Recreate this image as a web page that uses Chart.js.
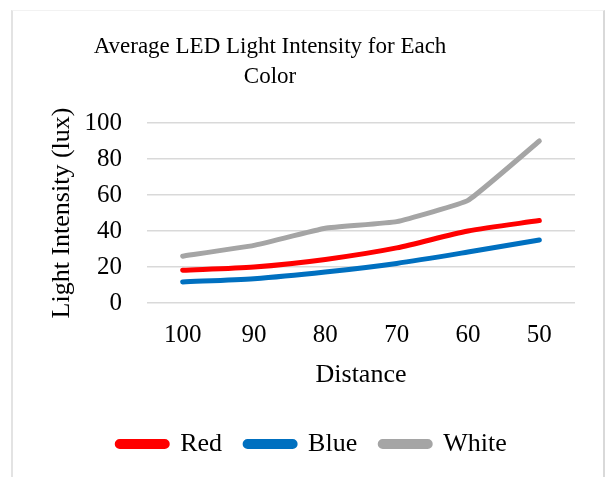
<!DOCTYPE html>
<html>
<head>
<meta charset="utf-8">
<script src="https://cdn.jsdelivr.net/npm/chart.js@4"></script>
<style>
  html, body { margin: 0; padding: 0; background: #fff; }
  #frame {
    position: absolute; left: 11px; top: 10px;
    width: 590px; height: 467px;
    border-left: 2px solid #e3e3e3;
    border-top: 1px solid #f2f2f2;
    border-right: 2px solid #d9d9d9;
  }
  #wrap { position: relative; width: 590px; height: 466px; }
</style>
</head>
<body>
<div id="frame"><div id="wrap"><canvas id="myChart"></canvas></div></div>
<script>
const distances = ["100", "90", "80", "70", "60", "50"];
const redValues = [18.2, 20.0, 24.2, 30.6, 40.0, 45.8];
const blueValues = [11.7, 13.5, 17.2, 22.0, 28.3, 35.0];
const whiteValues = [26.0, 32.0, 41.5, 45.2, 57.0, 90.0];
const yTicks = [0, 20, 40, 60, 80, 100];
const titleLines = ['Average LED Light Intensity for Each', 'Color'];

const FONT = "'Liberation Serif', 'Times New Roman', serif";
Chart.defaults.font.family = FONT;
Chart.defaults.color = '#000';

function series(label, data, color, tension) {
    return {
        label: label,
        data: data,
        borderColor: color,
        backgroundColor: color,
        borderWidth: 5,
        borderCapStyle: 'round',
        borderJoinStyle: 'round',
        pointRadius: 0,
        tension: tension
    };
}

// the title sits left of centre in the original, so draw it ourselves
const chartTitle = {
    id: 'chartTitle',
    afterDraw(chart) {
        const c = chart.ctx;
        c.save();
        c.font = '23px ' + FONT;
        c.fillStyle = '#000';
        c.textAlign = 'center';
        c.textBaseline = 'middle';
        titleLines.forEach((line, i) => c.fillText(line, 257, 36 + i * 30));
        c.restore();
    }
};

const ctx = document.querySelector('#myChart');

new Chart(ctx, {
    type: 'line',
    data: {
        labels: distances,
        datasets: [
            series('Red', redValues, '#FF0000', 0.25),
            series('Blue', blueValues, '#0070C0', 0.25),
            series('White', whiteValues, '#A5A5A5', 0.1)
        ]
    },
    plugins: [chartTitle],
    options: {
        responsive: true,
        maintainAspectRatio: false,
        animation: false,
        layout: { padding: { left: 36, right: 28, top: 112, bottom: 10 } },
        plugins: {
            title: { display: false },
            legend: {
                position: 'bottom',
                labels: {
                    boxWidth: 50,
                    boxHeight: 5,
                    useBorderRadius: true,
                    borderRadius: 2.5,
                    padding: 23,
                    font: { size: 26 },
                    color: '#000'
                }
            },
            tooltip: { enabled: false }
        },
        scales: {
            x: {
                offset: true,
                afterFit: function (scale) {
                    scale.height = 105;
                },
                grid: { display: false, drawTicks: false },
                border: { display: false },
                ticks: { padding: 17, autoSkip: false, maxRotation: 0, font: { size: 25 } },
                title: {
                    display: true,
                    text: 'Distance',
                    font: { size: 26 },
                    padding: { top: 8, bottom: 17 }
                }
            },
            y: {
                min: 0,
                max: 100,
                afterBuildTicks: function (scale) {
                    scale.ticks = yTicks.map(v => ({ value: v }));
                },
                afterFit: function (scale) {
                    scale.width = 98;
                },
                grid: { color: '#D9D9D9', lineWidth: 1.5, drawTicks: false },
                border: { display: false },
                ticks: { padding: 25, autoSkip: false, font: { size: 25 } },
                title: {
                    display: true,
                    text: 'Light Intensity (lux)',
                    font: { size: 26, lineHeight: 1.0 },
                    padding: { top: 0, bottom: 0 }
                }
            }
        }
    }
});
</script>
</body>
</html>
